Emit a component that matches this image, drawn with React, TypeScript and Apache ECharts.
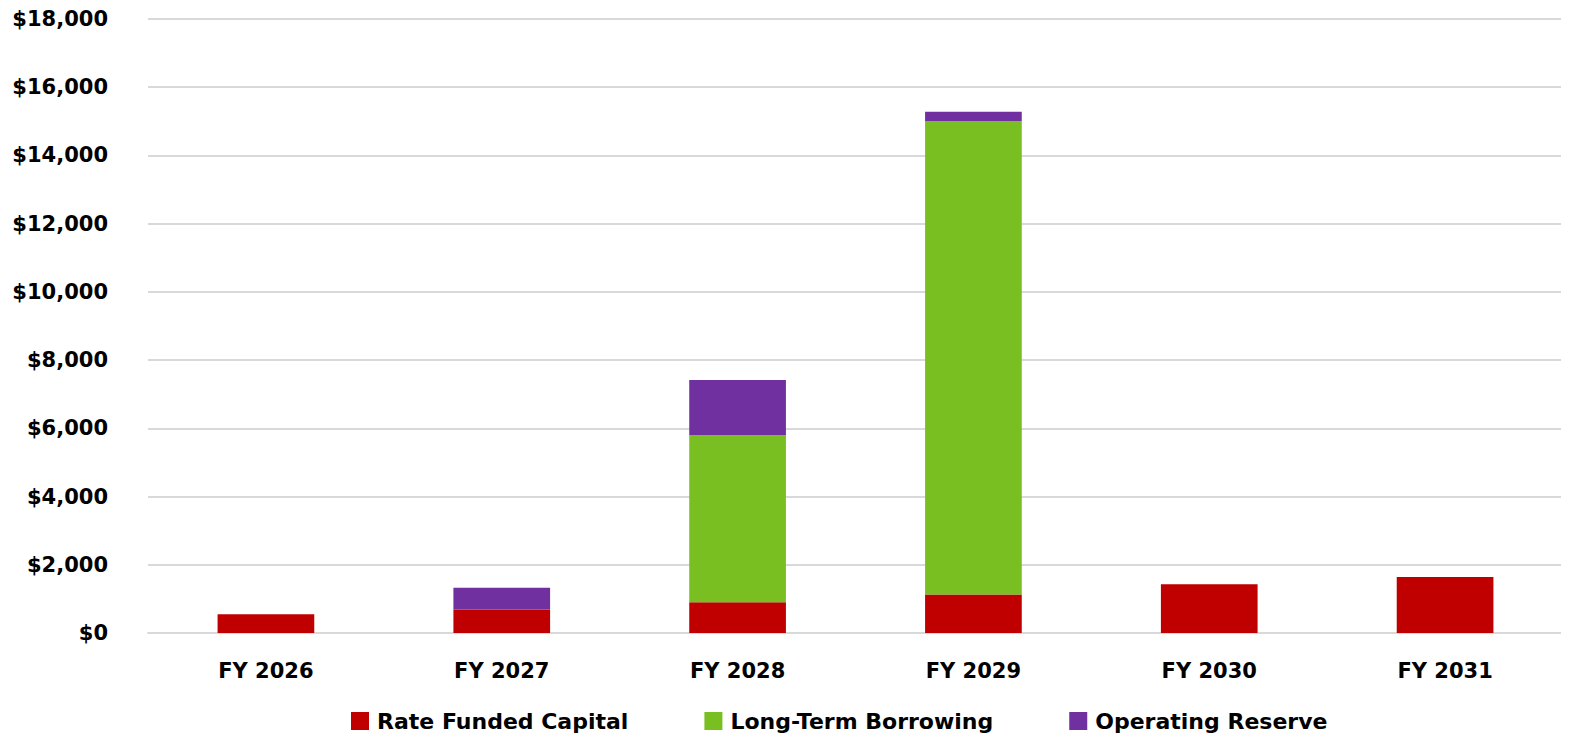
import React, { useEffect, useRef } from "react";
import * as echarts from "echarts";

const categories = ["FY 2026", "FY 2027", "FY 2028", "FY 2029", "FY 2030", "FY 2031"];
const rateFunded = [550, 690, 900, 1130, 1430, 1640];
const longTermBorrowing = [0, 0, 4900, 13880, 0, 0];
const operatingReserve = [0, 640, 1620, 270, 0, 0];
const seriesNames = ["Rate Funded Capital", "Long-Term Borrowing", "Operating Reserve"];
const colors = ["#C00000", "#7ABF22", "#7030A0"];

const FONT = "DejaVu Sans";

export default function App() {
  const ref = useRef<HTMLDivElement>(null);
  useEffect(() => {
    if (!ref.current) return;
    const chart = echarts.init(ref.current, undefined, { renderer: "svg" });
    const datasets = [rateFunded, longTermBorrowing, operatingReserve];
    chart.setOption({
      animation: false,
      color: colors,
      grid: { left: 140, right: 6, top: 11, bottom: 105, containLabel: false },
      legend: {
        top: 697,
        left: 338,
        itemWidth: 18,
        itemHeight: 18,
        itemGap: 76,
        icon: "rect",
        textStyle: { fontFamily: FONT, fontWeight: "bold", fontSize: 22, color: "#000", padding: [0, 0, 0, 3] },
        data: seriesNames,
      },
      xAxis: {
        type: "category",
        data: categories,
        axisLine: { lineStyle: { color: "#d9d9d9", width: 2 } },
        axisTick: { show: false },
        axisLabel: { fontFamily: FONT, fontWeight: "bold", fontSize: 21, color: "#000", margin: 27 },
      },
      yAxis: {
        type: "value",
        min: 0,
        max: 18000,
        interval: 2000,
        axisLine: { show: false },
        axisTick: { show: false },
        splitLine: { lineStyle: { color: "#d9d9d9", width: 2 } },
        axisLabel: {
          fontFamily: FONT,
          fontWeight: "bold",
          fontSize: 21,
          color: "#000",
          margin: 40,
          formatter: (v: number) => "$" + v.toLocaleString("en-US"),
        },
      },
      series: seriesNames.map((name, i) => ({
        name,
        type: "bar",
        stack: "total",
        barWidth: "41%",
        data: datasets[i].map((v) => (v === 0 ? null : v)),
        itemStyle: { color: colors[i] },
      })),
    });
    return () => chart.dispose();
  }, []);
  return <div ref={ref} style={{ width: 1561, height: 730 }} />;
}
